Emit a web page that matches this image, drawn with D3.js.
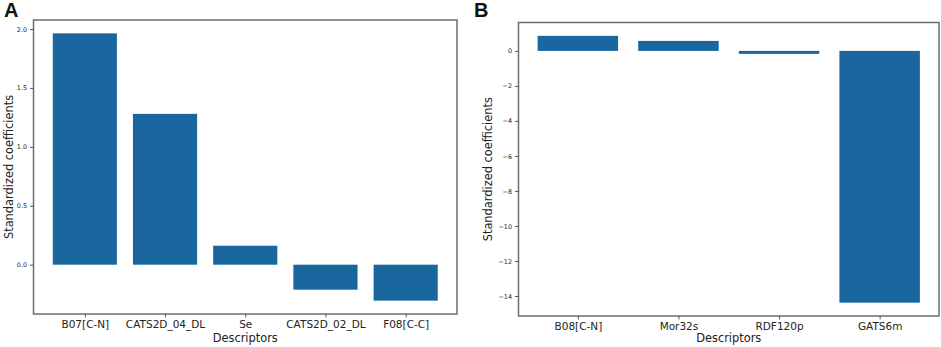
<!DOCTYPE html>
<html>
<head>
<meta charset="utf-8">
<script src="https://cdn.jsdelivr.net/npm/d3@7"></script>
<style>
  html, body { margin: 0; padding: 0; background: #fff; }
  svg { display: block; font-family: "DejaVu Sans", sans-serif; }
</style>
</head>
<body>
<div id="chart"></div>
<script>
// panel A
const descriptorsA = ["B07[C-N]", "CATS2D_04_DL", "Se", "CATS2D_02_DL", "F08[C-C]"];
const coefA = [1.963, 1.28, 0.161, -0.212, -0.305];
const ticksA = [0.0, 0.5, 1.0, 1.5, 2.0];

// panel B
const descriptorsB = ["B08[C-N]", "Mor32s", "RDF120p", "GATS6m"];
const coefB = [0.86, 0.57, -0.17, -14.38];
const ticksB = [0, -2, -4, -6, -8, -10, -12, -14];

const width = 941, height = 347;
const barColor = "#1a67a0";
const frameColor = "#6e6e6e";

const svg = d3.select("#chart").append("svg")
  .attr("width", width)
  .attr("height", height);

function panel(opts) {
  const { names, values, ticks, fmt, box, letter, letterX } = opts;
  const g = svg.append("g");

  // matplotlib-like limits: bars width 0.8, 5% margins
  const lo = Math.min(0, d3.min(values)), hi = Math.max(0, d3.max(values));
  const pad = (hi - lo) * 0.05;
  const y = d3.scaleLinear()
    .domain([lo - pad, hi + pad])
    .range([box.bottom, box.top]);

  const n = names.length;
  const xr = (n - 0.2) * 0.05;
  const x = d3.scaleLinear()
    .domain([-0.4 - xr, n - 0.6 + xr])
    .range([box.left, box.right]);

  g.append("g")
    .selectAll("rect")
    .data(values)
    .join("rect")
      .attr("x", (d, i) => x(i - 0.4))
      .attr("width", (d, i) => x(i + 0.4) - x(i - 0.4))
      .attr("y", d => y(Math.max(0, d)))
      .attr("height", d => Math.abs(y(d) - y(0)))
      .attr("fill", barColor);

  // frame
  g.append("rect")
    .attr("x", box.left)
    .attr("y", box.top)
    .attr("width", box.right - box.left)
    .attr("height", box.bottom - box.top)
    .attr("fill", "none")
    .attr("stroke", frameColor)
    .attr("stroke-width", 1.5);

  const yAxis = g.append("g")
    .attr("transform", `translate(${box.left},0)`)
    .call(d3.axisLeft(y).tickValues(ticks).tickFormat(fmt).tickSize(3.5).tickPadding(3));
  yAxis.select(".domain").remove();
  yAxis.selectAll("line").attr("stroke", "#333").attr("stroke-width", 0.8);
  yAxis.selectAll("text").attr("font-size", 6.4).attr("fill", "#222")
    .attr("font-family", "DejaVu Sans, sans-serif");

  const xAxis = g.append("g")
    .attr("transform", `translate(0,${box.bottom})`)
    .call(d3.axisBottom(x).tickValues(d3.range(n)).tickFormat(i => names[i]).tickSize(3.5).tickPadding(3));
  xAxis.select(".domain").remove();
  xAxis.selectAll("line").attr("stroke", "#333").attr("stroke-width", 0.8);
  xAxis.selectAll("text").attr("font-size", 10.5).attr("fill", "#222")
    .attr("font-family", "DejaVu Sans, sans-serif");

  g.append("text")
    .attr("x", (box.left + box.right) / 2)
    .attr("y", 341.5)
    .attr("text-anchor", "middle")
    .attr("font-size", 11.4)
    .attr("fill", "#222")
    .text("Descriptors");

  g.append("text")
    .attr("transform", `translate(${opts.ylabelX},${(box.top + box.bottom) / 2}) rotate(-90)`)
    .attr("text-anchor", "middle")
    .attr("font-size", 11.4)
    .attr("fill", "#222")
    .text("Standardized coefficients");

  g.append("text")
    .attr("x", letterX)
    .attr("y", 17.3)
    .attr("font-size", 20)
    .attr("font-weight", "bold")
    .attr("font-family", "Liberation Sans, Arial, sans-serif")
    .attr("fill", "#111")
    .text(letter);
}

panel({
  names: descriptorsA, values: coefA, ticks: ticksA,
  fmt: d3.format(".1f"),
  box: { left: 33.5, right: 457, top: 20, bottom: 314 },
  letter: "A", letterX: 4, ylabelX: 12.7
});

panel({
  names: descriptorsB, values: coefB, ticks: ticksB,
  fmt: d => d < 0 ? "\u2212" + Math.abs(d) : String(d),
  box: { left: 518.5, right: 939, top: 22.5, bottom: 316 },
  letter: "B", letterX: 474, ylabelX: 492
});
</script>
</body>
</html>
